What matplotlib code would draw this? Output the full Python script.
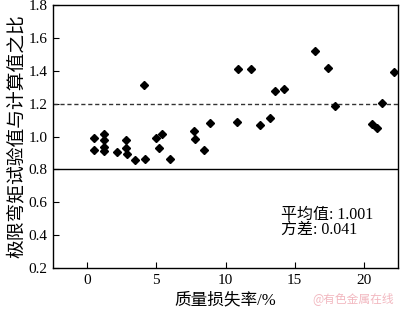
import matplotlib.pyplot as plt

# mass loss (%) and ratio of test / calculated ultimate moment
loss = [0.48, 0.48, 1.23, 1.23, 1.23, 1.23, 2.17, 2.84, 2.84, 2.92,
        3.47, 4.12, 4.17, 5.01, 5.2, 5.39, 6.02, 7.7, 7.83, 8.43,
        8.91, 10.81, 10.88, 11.82, 12.52, 13.19, 13.55, 14.2, 16.44, 17.43,
        17.93, 20.6, 20.94, 21.33, 22.19]
ratio = [0.99, 0.92, 1.015, 0.976, 0.936, 0.915, 0.909, 0.978, 0.931, 0.891,
         0.855, 1.313, 0.863, 0.988, 0.933, 1.016, 0.863, 1.036, 0.986, 0.92,
         1.083, 1.091, 1.41, 1.41, 1.071, 1.111, 1.277, 1.287, 1.521, 1.416,
         1.186, 1.077, 1.053, 1.202, 1.392]

xticks = [0, 5, 10, 15, 20]
yticks = [0.2, 0.4, 0.6, 0.8, 1.0, 1.2, 1.4, 1.6, 1.8]

serif = ['Liberation Serif', 'Noto Sans CJK SC']

fig = plt.figure(figsize=(4.0, 3.16), dpi=100)
ax = fig.add_axes([0.1325, 0.151, 0.8625, 0.834])

ax.plot(loss, ratio, 'D', color='black', markersize=4.5, zorder=3)
ax.axhline(1.2, color='#333333', lw=1.0, linestyle=(0, (3, 2)))
ax.axhline(0.8, color='black', lw=1.0)

ax.set_xlim(-2.45, 22.45)
ax.set_ylim(0.2, 1.8)
ax.set_xticks(xticks)
ax.set_yticks(yticks)
ax.set_yticklabels(['%.1f' % v for v in yticks])
ax.tick_params(direction='in', length=4, width=0.8, labelsize=11, pad=4)
for lab in ax.get_xticklabels() + ax.get_yticklabels():
    lab.set_family(serif)
for s in ax.spines.values():
    s.set_linewidth(1.0)

ax.set_xlabel('质量损失率/%', family=serif, fontsize=12, labelpad=4)
ax.set_ylabel('极限弯矩试验值与计算值之比', family=serif, fontsize=13.5, labelpad=2)

ax.text(14.0, 0.475, '平均值: 1.001\n方差: 0.041', family=serif,
        fontsize=11.5, linespacing=0.95, va='center', ha='left')

fig.text(0.985, 0.055, '@有色金属在线', color='#f2b8c0', fontsize=8.5,
         ha='right', va='center', family=['Noto Sans CJK SC', 'DejaVu Sans'])

fig.savefig('out.png', dpi=100)
